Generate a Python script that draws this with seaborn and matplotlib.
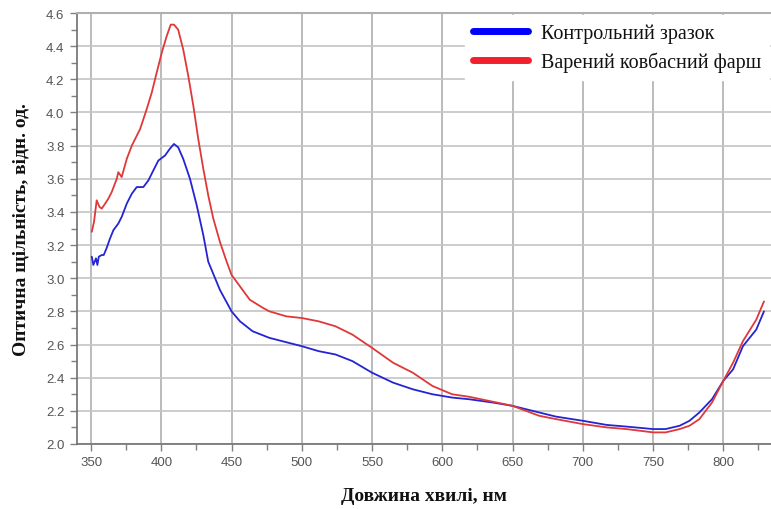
import numpy as np
import pandas as pd
import matplotlib
matplotlib.use("Agg")
import matplotlib.pyplot as plt
from matplotlib.ticker import MultipleLocator
import seaborn as sns

# ---- data ----
control_nm = [350.5, 351.6, 353.5, 354.5, 355.5, 357.6, 359, 361, 363.5, 365.9, 369.4, 371.8,
              375.4, 379, 382.5, 387.2, 390.8, 394.3, 397.9, 402.6, 406, 409, 412, 415.6,
              420.4, 425.2, 429.9, 433.4, 441.7, 450, 456, 465, 477, 500, 512, 524, 536,
              550, 565, 579, 593, 607, 619, 636, 650, 669, 681, 700, 717, 731, 750, 759,
              769, 776, 783, 792, 800, 807, 814, 823.5, 829]
control_od = [3.13, 3.08, 3.12, 3.08, 3.13, 3.14, 3.14, 3.18, 3.24, 3.29, 3.33, 3.37,
              3.45, 3.51, 3.55, 3.55, 3.59, 3.65, 3.71, 3.74, 3.78, 3.81, 3.79, 3.72,
              3.60, 3.44, 3.26, 3.10, 2.93, 2.80, 2.74, 2.68, 2.64, 2.59, 2.56, 2.54, 2.50,
              2.43, 2.37, 2.33, 2.30, 2.28, 2.27, 2.25, 2.23, 2.19, 2.165, 2.14, 2.115, 2.105,
              2.09, 2.09, 2.11, 2.14, 2.19, 2.27, 2.38, 2.45, 2.59, 2.69, 2.80]

sausage_nm = [350.5, 352.1, 354, 356, 357.6, 360, 362.3, 364.7, 368.3, 369.4, 371.8, 375.4,
              379, 384.9, 389.6, 393.2, 396.7, 400.3, 403.8, 406.7, 409, 412, 415.6, 419.2,
              422.8, 426.3, 429.9, 433.4, 437, 441.7, 446.5, 450, 463, 472.6, 477, 489, 500,
              512, 524, 536, 550, 565, 579, 593, 600, 607, 619, 636, 650, 669, 681, 700,
              717, 731, 750, 759, 769, 776, 783, 792, 800, 807, 814, 823.5, 829]
sausage_od = [3.28, 3.34, 3.47, 3.43, 3.42, 3.45, 3.48, 3.52, 3.60, 3.64, 3.61, 3.72,
              3.80, 3.90, 4.02, 4.12, 4.24, 4.36, 4.46, 4.53, 4.53, 4.50, 4.38, 4.22,
              4.04, 3.84, 3.66, 3.50, 3.36, 3.22, 3.10, 3.02, 2.87, 2.82, 2.80, 2.77, 2.76,
              2.74, 2.71, 2.66, 2.58, 2.49, 2.43, 2.35, 2.325, 2.30, 2.285, 2.255, 2.23, 2.17,
              2.15, 2.12, 2.10, 2.09, 2.07, 2.07, 2.09, 2.11, 2.15, 2.25, 2.38, 2.49, 2.62,
              2.75, 2.86]

series_names = ["Контрольний зразок", "Варений ковбасний фарш"]
x_ticks = [350, 400, 450, 500, 550, 600, 650, 700, 750, 800]
y_ticks = [2.0, 2.2, 2.4, 2.6, 2.8, 3.0, 3.2, 3.4, 3.6, 3.8, 4.0, 4.2, 4.4, 4.6]

df = pd.concat([
    pd.DataFrame({"nm": control_nm, "od": control_od, "series": series_names[0]}),
    pd.DataFrame({"nm": sausage_nm, "od": sausage_od, "series": series_names[1]}),
], ignore_index=True)

sns.set_theme(style="white")
plt.rcParams["font.family"] = ["Liberation Sans", "DejaVu Sans"]

fig = plt.figure(figsize=(7.71, 5.10), dpi=100)
ax = fig.add_axes([0.0999, 0.1275, 0.9001, 0.845])

palette = {series_names[0]: "#2424d2", series_names[1]: "#e03838"}
sns.lineplot(data=df, x="nm", y="od", hue="series", palette=palette, ax=ax,
             linewidth=1.3, sort=False, estimator=None, legend=True)

ax.set_xlim(340, 834)
ax.set_ylim(2.0, 4.6)
ax.set_xticks(x_ticks)
ax.set_yticks(y_ticks)
ax.set_yticklabels([f"{v:.1f}" for v in y_ticks])
ax.xaxis.set_minor_locator(MultipleLocator(25))
ax.yaxis.set_minor_locator(MultipleLocator(0.1))

ax.grid(True, which="major", axis="x", color="#a8a8a8", linewidth=1.1)
ax.grid(True, which="major", axis="y", color="#c4c4c4", linewidth=1.2)
ax.set_axisbelow(True)

for side in ["left", "bottom"]:
    ax.spines[side].set_color("#707070")
    ax.spines[side].set_linewidth(1.2)
ax.spines["top"].set_color("#b0b0b0")
ax.spines["top"].set_linewidth(1.5)
ax.spines["right"].set_visible(False)

ax.tick_params(axis="both", which="major", direction="out", length=5, width=1,
               color="#808080", labelsize=9.5, labelcolor="#555555", pad=4,
               bottom=True, left=True)
ax.tick_params(axis="both", which="minor", direction="out", length=4, width=1,
               color="#808080", bottom=True, left=True)

ax.set_xlabel("Довжина хвилі, нм", fontfamily=["Liberation Serif", "DejaVu Serif"],
              fontweight="bold", fontsize=14, color="#111111", labelpad=13)
ax.set_ylabel("Оптична щільність, відн. од.", fontfamily=["Liberation Serif", "DejaVu Serif"],
              fontweight="bold", fontsize=14, color="#111111", labelpad=12)

leg = ax.legend(loc="upper right", bbox_to_anchor=(1.0, 1.0), frameon=True,
                prop={"family": ["Liberation Serif", "DejaVu Serif"], "size": 14.5},
                handlelength=2.7, handletextpad=0.65, labelspacing=0.45,
                borderaxespad=0.1, borderpad=0.4, fancybox=False)
leg.get_frame().set_facecolor("white")
leg.get_frame().set_edgecolor("white")
leg.get_frame().set_alpha(1.0)
legend_colors = ["#0000ff", "#f0202c"]
for h, c in zip(leg.get_lines(), legend_colors):
    h.set_linewidth(5)
    h.set_color(c)
    h.set_solid_capstyle("round")
for t in leg.get_texts():
    t.set_color("#111111")

fig.savefig("out.png", dpi=100)
